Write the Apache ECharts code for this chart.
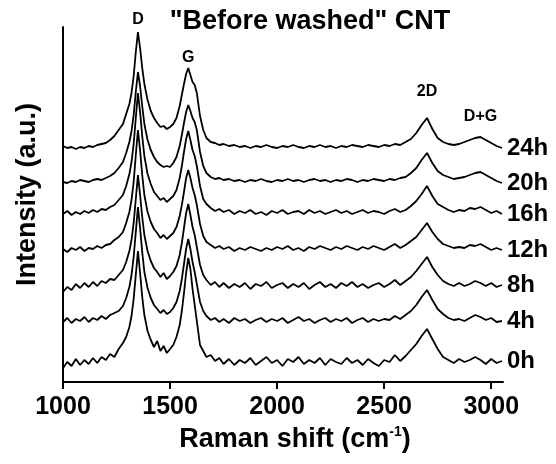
<!DOCTYPE html>
<html>
<head>
  <meta charset="utf-8">
  <script src="https://cdn.jsdelivr.net/npm/echarts@6/dist/echarts.min.js"></script>
</head>
<body style="margin: 0">
  <div id="container" style="width: 556px; height: 464px"></div>
  <script>
    // Raman shift (cm-1), shared by all spectra
    var ramanShift = [
      1000, 1020, 1040, 1060, 1080, 1100, 1120, 1140, 1160, 1180, 1200, 1220, 1240, 1260, 1280,
      1295, 1310, 1320, 1330, 1340, 1350, 1360, 1370, 1380, 1395, 1410, 1425, 1440, 1455, 1470,
      1485, 1500, 1515, 1530, 1545, 1555, 1565, 1575, 1585, 1595, 1605, 1615, 1625, 1640, 1655,
      1670, 1690, 1710, 1730, 1750, 1775, 1800, 1825, 1850, 1875, 1900, 1925, 1950, 1975, 2000,
      2025, 2050, 2075, 2100, 2125, 2150, 2175, 2200, 2225, 2250, 2275, 2300, 2325, 2350, 2375,
      2400, 2425, 2450, 2475, 2500, 2525, 2550, 2575, 2600, 2625, 2650, 2675, 2700, 2725, 2750,
      2775, 2800, 2825, 2850, 2875, 2900, 2925, 2950, 2975, 3000, 3025, 3050
    ];

    // intensities (a.u.), each relative to its own baseline
    var spec0h = [
      -5, 1, -3, 4, -2, 3, -1, 5, 0, 6, 3, 9, 6, 14, 20,
      26, 36, 47, 64, 88, 112, 90, 66, 48, 32, 23, 16, 22, 12, 17,
      10, 14, 18, 26, 38, 52, 70, 90, 105, 94, 74, 58, 42, 18, 12,
      6, 8, 2, 5, -1, 4, -2, 3, 0, 5, -2, 2, 6, 0, 3,
      -3, 4, 1, 6, -1, 3, 0, 5, -2, 4, 1, -1, 5, 0, 3,
      -2, 4, 0, -3, 3, 1, 8, 2, 7, 13, 19, 27, 34, 24, 14,
      6, 3, 0, 4, 1, 3, 6, 3, -1, 4, 0, 2
    ];
    var spec4h = [
      0, 4, -1, 3, 1, 5, 0, 4, 2, 6, 3, 7, 9, 11, 16,
      24, 35, 47, 65, 90, 115, 94, 70, 50, 34, 24, 17, 13, 9, 12,
      8, 10, 14, 20, 31, 43, 58, 73, 83, 73, 60, 50, 38, 20, 11,
      6, 2, 4, 0, 3, -1, 4, 1, 3, -1, 2, 4, 0, 3, 1,
      4, -1, 2, 5, 1, 3, -1, 2, 4, 0, 3, 1, 4, -1, 2,
      4, 0, 3, 1, 3, 2, 6, 3, 7, 11, 17, 25, 32, 22, 13,
      8, 4, 2, 3, 1, 4, 7, 5, 2, 4, 0, 1
    ];
    var spec8h = [
      -5, 0, -3, 3, -1, 4, 0, 5, 1, 6, 4, 8, 7, 12, 17,
      25, 36, 47, 64, 88, 112, 92, 70, 52, 36, 26, 19, 15, 10, 14,
      8, 11, 15, 21, 32, 44, 59, 74, 83, 72, 60, 52, 40, 22, 12,
      7, 2, 5, 0, 4, -1, 3, 0, 4, -2, 3, 1, 5, -1, 2,
      4, -1, 3, 0, 4, -2, 2, 5, 0, 3, -1, 4, 1, 5, 0,
      3, -1, 2, 4, 0, 3, 7, 2, 6, 10, 16, 23, 30, 20, 12,
      6, 3, 1, 4, 1, 3, 6, 4, 1, 4, 0, 2
    ];
    var spec12h = [
      1, -2, 2, 0, 3, -1, 2, 1, 4, 2, 5, 6, 10, 13, 18,
      27, 38, 50, 68, 95, 120, 100, 75, 55, 38, 28, 21, 17, 12, 15,
      11, 14, 17, 23, 34, 45, 58, 72, 80, 72, 62, 55, 45, 26, 14,
      8, 5, 2, 4, 1, 3, -1, 2, 0, 3, 1, -1, 2, 0, 3,
      1, 4, 0, 2, -1, 3, 1, 4, 2, 0, 3, 1, 4, 2, 0,
      3, 1, 4, 2, 0, 3, 6, 2, 5, 9, 13, 20, 27, 18, 11,
      6, 4, 2, 3, 2, 5, 4, 6, 3, 0, 2, 0
    ];
    var spec16h = [
      0, 3, -1, 2, 0, 3, 1, 4, 2, 5, 4, 7, 9, 14, 19,
      28, 40, 52, 70, 96, 121, 102, 78, 58, 40, 30, 22, 18, 14, 16,
      12, 15, 18, 24, 36, 48, 62, 75, 83, 74, 64, 58, 48, 28, 15,
      10, 6, 3, 5, 2, 4, 0, 3, 1, 4, 0, 2, -1, 3, 1,
      4, 0, 2, 3, 0, 4, 1, 3, 0, 2, 4, 1, 3, 0, 2,
      4, 1, 3, 2, 0, 3, 5, 2, 4, 8, 13, 20, 28, 18, 10,
      7, 4, 2, 4, 3, 6, 5, 7, 4, 1, 3, 0
    ];
    var spec20h = [
      0, -1, 1, 0, 2, 1, 0, 2, 3, 2, 4, 6, 9, 14, 20,
      29, 40, 51, 67, 90, 110, 96, 76, 58, 42, 32, 25, 20, 17, 15,
      16, 15, 19, 25, 36, 47, 59, 70, 77, 71, 64, 60, 52, 30, 16,
      9, 5, 3, 4, 2, 3, 1, 2, 0, 2, 1, 3, 1, 0, 2,
      1, 3, 1, 2, 0, 2, 3, 1, 2, 0, 2, 1, 3, 2, 0,
      2, 1, 3, 2, 1, 3, 2, 4, 5, 9, 14, 22, 29, 19, 11,
      7, 5, 3, 4, 5, 7, 9, 10, 7, 4, 1, -1
    ];
    var spec24h = [
      2, 0, 1, -1, 1, 0, 2, 1, 3, 4, 5, 8, 12, 18, 24,
      34, 44, 55, 72, 96, 116, 100, 80, 64, 48, 37, 30, 25, 21, 22,
      19, 21, 24, 30, 42, 53, 64, 74, 80, 73, 66, 63, 55, 32, 18,
      10, 6, 5, 3, 4, 2, 3, 1, 2, 0, 2, 1, 3, 1, 0,
      2, 1, 3, 1, 0, 2, 1, 3, 1, 2, 0, 2, 1, 3, 2,
      1, 3, 2, 1, 3, 2, 4, 3, 6, 9, 15, 23, 30, 19, 10,
      6, 4, 3, 4, 6, 8, 10, 11, 8, 5, 2, 0
    ];

    var seriesNames = ['0h', '4h', '8h', '12h', '16h', '20h', '24h'];
    var spectra = [spec0h, spec4h, spec8h, spec12h, spec16h, spec20h, spec24h];
    var stackOffset = [19, 60, 95, 132, 168, 200, 234];

    // band labels placed over the top (24h) spectrum
    var bandNames = ['D', 'G', '2D', 'D+G'];
    var bandShift = [1350, 1585, 2700, 2950];

    var font = '"Liberation Sans", Arial, sans-serif';
    var chart = echarts.init(document.getElementById('container'), null, { renderer: 'canvas' });

    function nearestIndex(x) {
      var best = 0;
      for (var i = 1; i < ramanShift.length; i++) {
        if (Math.abs(ramanShift[i] - x) < Math.abs(ramanShift[best] - x)) best = i;
      }
      return best;
    }

    var bandLift = [12, 10, 26, 20];
    var topIdx = spectra.length - 1;
    var bandPoints = bandNames.map(function (name, j) {
      var idx = nearestIndex(bandShift[j]);
      return {
        name: name,
        coord: [bandShift[j], spectra[topIdx][idx] + stackOffset[topIdx]],
        label: { offset: [0, -bandLift[j]] }
      };
    });

    var series = seriesNames.map(function (name, k) {
      var s = {
        type: 'line',
        name: name,
        symbol: 'none',
        silent: true,
        lineStyle: { color: '#000', width: 1.8 },
        itemStyle: { color: '#000' },
        data: ramanShift.map(function (x, i) { return [x, spectra[k][i] + stackOffset[k]]; }),
        endLabel: {
          show: true,
          formatter: name,
          color: '#000',
          fontSize: 24,
          fontWeight: 'bold',
          fontFamily: font,
          distance: 5
        }
      };
      if (k === topIdx) {
        s.markPoint = {
          symbol: 'circle',
          symbolSize: 1,
          itemStyle: { color: 'rgba(0,0,0,0)' },
          label: {
            show: true,
            position: 'inside',
            formatter: '{b}',
            color: '#000',
            fontSize: 16,
            fontWeight: 'bold',
            fontFamily: font
          },
          data: bandPoints
        };
      }
      return s;
    });

    var option = {
      animation: false,
      title: {
        text: '"Before washed" CNT',
        left: 305,
        top: 3,
        textAlign: 'center',
        textStyle: { color: '#000', fontSize: 27, fontWeight: 'bold', fontFamily: font }
      },
      grid: { left: 63, right: 53, top: 27, bottom: 82 },
      xAxis: {
        type: 'value',
        min: 1000,
        max: 3055,
        name: '{a|Raman shift (cm}{s|-1}{a|)}',
        nameLocation: 'middle',
        nameGap: 39,
        nameTextStyle: {
          padding: [0, 0, 0, 24],
          rich: {
            a: { fontSize: 27, fontWeight: 'bold', fontFamily: font, color: '#000', lineHeight: 30 },
            s: { fontSize: 14, fontWeight: 'bold', fontFamily: font, color: '#000', lineHeight: 14, verticalAlign: 'top' }
          }
        },
        axisLine: { lineStyle: { color: '#000', width: 2 } },
        axisTick: { length: 7, lineStyle: { color: '#000', width: 2 }, customValues: [1000, 1500, 2000, 2500, 3000] },
        axisLabel: {
          customValues: [1000, 1500, 2000, 2500, 3000],
          formatter: function (v) { return String(v); },
          margin: 13,
          color: '#000',
          fontSize: 25,
          fontWeight: 'bold',
          fontFamily: font
        },
        splitLine: { show: false }
      },
      yAxis: {
        type: 'value',
        min: 0,
        max: 355,
        name: 'Intensity (a.u.)',
        nameLocation: 'middle',
        nameGap: 22,
        nameTextStyle: { color: '#000', fontSize: 27, fontWeight: 'bold', fontFamily: font, padding: [0, 0, 0, 20] },
        axisLine: { show: true, lineStyle: { color: '#000', width: 2 } },
        axisTick: { show: false },
        axisLabel: { show: false },
        splitLine: { show: false }
      },
      series: series
    };

    chart.setOption(option);
  </script>
</body>
</html>
